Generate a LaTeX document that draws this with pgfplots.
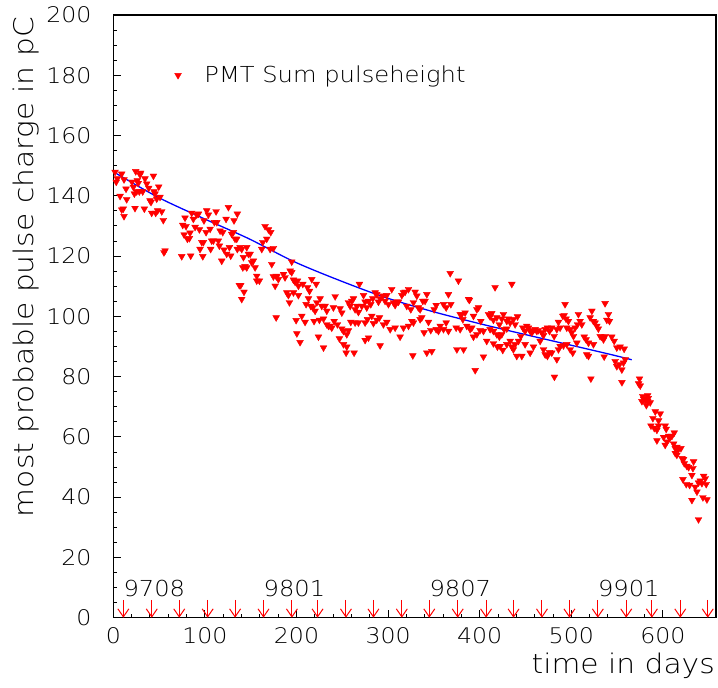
\documentclass[border=0pt]{standalone}
\usepackage{pgfplots}
\pgfplotsset{compat=1.18}
\usepackage{fontspec}
\setmainfont{DejaVu Sans ExtraLight}[FakeStretch=1.1]
\usetikzlibrary{arrows.meta}
\begin{document}
\begin{tikzpicture}
\begin{axis}[
  name=ax,
  scale only axis, width=602.7pt, height=602.7pt,
  xmin=0, xmax=658, ymin=0, ymax=200,
  xtick={0,100,...,600}, minor x tick num=4,
  ytick={0,20,...,200}, minor y tick num=3,
  tick align=inside, tick pos=left,
  major tick length=8pt, minor tick length=4pt,
  tick style={black, line width=0.9pt},
  axis line style={line width=1.2pt},
  /pgf/number format/assume math mode=true,
  ticklabel style={font=\fontsize{21.5}{24}\selectfont, inner sep=0pt},
  xticklabel style={yshift=-9.6pt},
  yticklabel style={xshift=-21.6pt},
  xlabel={time in days},
  ylabel={most probable pulse charge in pC},
  label style={font=\fontsize{27}{30}\selectfont, inner sep=0pt},
  xlabel style={at={(axis description cs:1,0)}, anchor=base east, yshift=-55.6pt, xshift=-1pt},
  ylabel style={at={(axis description cs:-0.1327,0.9967)}, anchor=base east},
  legend style={at={(axis description cs:0.1015,0.900)}, anchor=west, draw=none, fill=none,
    inner sep=0pt, font=\fontsize{22}{26}\selectfont, nodes={inner sep=0pt},
    /tikz/every odd column/.append style={column sep=23pt}},
]
\addplot[only marks, red, mark=triangle*, mark size=3.9pt, mark options={rotate=180, fill=red, draw=red}] coordinates {
(1.9,147.9)(4.4,145.7)(3.2,144.6)(9.2,147.3)(11.7,145.4)(7.4,139.9)(13.9,142.3)(14.6,138.8)(9.2,135.4)(10.9,135.7)(11.7,133.2)(20.4,144.6)(21.9,142.9)(23.0,140.7)(24.5,148.1)(26.2,145.1)(27.3,144.2)(29.2,147.0)(29.9,147.6)(25.5,141.4)(28.4,141.4)(32.1,141.4)(23.7,135.9)(33.9,135.7)(34.6,145.7)(36.5,144.0)(38.7,142.6)(40.1,138.4)(41.2,137.9)(43.8,146.6)(44.5,141.4)(45.6,140.7)(49.6,143.0)(47.4,139.0)(51.0,139.6)(41.9,134.3)(46.3,134.3)(48.4,135.1)(52.9,134.8)(54.6,131.9)(56.5,121.8)(55.3,121.2)
(78.3,132.7)(75.8,130.3)(77.3,127.1)(79.4,129.9)(80.9,125.7)(83.1,125.9)(83.8,127.7)(85.6,134.3)(87.4,132.3)(89.3,129.6)(91.1,133.7)(93.0,134.0)(94.0,128.8)(94.7,122.3)(96.6,124.6)(98.4,124.6)(99.0,131.8)(101.3,127.9)(102.0,135.1)(103.8,133.7)(105.7,129.0)(106.3,122.3)(107.4,125.1)(109.3,125.1)(110.4,131.2)(112.2,134.8)(113.0,131.2)(114.7,125.1)(115.8,123.4)(116.6,128.4)(118.4,118.4)(119.5,127.9)(120.9,122.1)(123.1,132.3)(125.7,136.2)(123.8,120.7)(126.8,122.9)(128.2,120.1)(129.3,127.3)(131.1,127.9)(131.8,131.8)(132.9,125.7)(134.8,125.7)(135.4,134.0)(135.4,122.3)(138.4,122.9)(140.2,122.3)(142.1,119.6)(141.4,116.2)(143.8,116.6)(145.7,116.2)(145.7,122.9)(147.5,120.7)(149.4,120.7)(151.1,117.9)(152.9,118.4)(154.8,116.2)(156.6,111.8)(159.5,111.8)(156.6,113.4)(162.1,122.3)(163.2,124.6)(165.7,129.9)(167.5,125.7)(169.4,128.8)(171.2,122.3)(171.9,127.9)(173.0,117.3)(174.8,113.2)(176.7,110.1)(177.8,113.4)(178.5,113.2)(174.8,122.6)(180.2,112.3)(74.7,119.9)(84.5,120.1)(97.7,119.9)(137.6,110.3)(139.1,110.3)(142.7,108.1)(140.2,105.7)(177.8,99.6)
(194.8,118.1)(185.8,114.0)(187.5,112.9)(193.1,115.1)(194.8,114.6)(196.7,112.1)(198.5,111.4)(201.1,111.8)(202.1,110.1)(206.9,110.7)(212.0,109.6)(214.2,108.4)(216.7,112.3)(221.5,110.7)(189.4,107.9)(191.2,107.0)(192.3,104.6)(196.7,107.9)(202.1,107.0)(210.5,104.0)(213.1,105.9)(215.6,103.4)(217.8,102.9)(220.3,101.8)(222.2,104.6)(225.8,105.9)(227.6,103.4)(231.2,103.4)(233.1,101.8)(240.3,102.9)(242.2,106.6)(247.6,102.6)(249.5,101.2)(256.7,104.6)(258.6,103.4)(260.3,105.1)(262.2,105.9)(264.0,102.3)(265.9,103.4)(268.7,110.7)(267.6,101.4)(271.3,103.4)(273.2,107.0)(274.9,104.8)(276.7,102.9)(278.6,105.1)(281.1,104.0)(283.3,105.9)(285.9,107.9)(287.6,107.3)(289.5,104.8)(291.3,105.9)(294.3,106.8)(296.7,105.1)(298.6,107.0)(300.4,104.0)(304.0,109.0)(305.9,104.6)(307.7,103.7)(309.6,104.8)(311.3,104.8)(315.0,107.0)(316.8,107.9)(318.6,108.1)(320.4,103.4)(322.3,109.0)(324.8,102.3)(327.7,104.6)(329.5,108.1)(331.4,106.8)(333.1,102.9)(335.0,102.3)(337.9,105.1)(340.4,105.1)(342.3,107.3)(350.3,102.3)(352.5,103.7)(360.5,104.0)(363.4,102.9)(365.9,107.3)(368.5,104.0)(367.8,114.3)(376.8,111.8)(378.7,100.7)(380.5,100.7)(384.1,101.2)(387.8,105.7)(393.2,100.1)(396.9,102.3)(398.7,102.9)
(199.6,98.7)(205.8,100.1)(209.4,98.1)(219.2,98.4)(225.0,98.8)(229.5,99.2)(233.1,97.3)(234.9,96.8)(236.7,96.8)(238.5,96.2)(241.1,98.4)(244.7,97.3)(249.5,95.9)(251.3,95.1)(254.9,94.0)(256.7,95.3)(259.3,98.1)(264.0,97.9)(267.6,97.9)(274.9,97.9)(277.5,99.0)(282.2,100.1)(284.0,97.7)(287.6,98.8)(290.6,99.6)(294.9,97.3)(298.6,98.1)(302.3,95.7)(307.7,96.2)(313.1,93.2)(316.8,96.2)(322.3,96.8)(325.9,98.4)(327.7,97.9)(335.0,99.0)(336.8,99.6)(339.3,94.6)(344.1,98.1)(346.6,95.4)(352.5,95.7)(355.0,95.1)(356.9,96.8)(360.5,95.7)(363.4,97.9)(365.9,95.1)(374.3,96.2)(378.7,95.7)(381.6,99.0)(385.9,96.8)(389.6,95.7)(391.4,96.2)(393.2,93.2)(396.9,94.0)(200.4,94.3)(203.9,91.4)(224.0,93.2)(229.5,89.6)(246.9,92.6)(251.3,90.7)(254.2,87.9)(254.9,89.9)(262.9,87.9)(274.9,92.1)(278.6,92.9)(291.3,90.3)(327.0,87.0)(342.3,87.9)(347.7,88.4)(375.1,89.0)(382.4,89.0)(395.1,82.1)
(416.8,109.6)(435.1,110.7)(388.8,105.4)(401.2,98.4)(400.4,95.4)(404.1,95.1)(409.6,100.7)(411.4,99.9)(413.2,101.0)(415.0,98.8)(418.7,99.6)(421.5,97.3)(424.1,99.2)(425.9,100.7)(429.6,98.4)(431.4,99.2)(433.3,97.9)(436.8,99.0)(438.7,97.3)(441.3,99.9)(407.7,91.8)(411.4,95.7)(415.0,95.1)(418.7,94.0)(421.5,93.2)(424.1,94.0)(426.7,95.7)(429.6,95.9)(433.3,91.8)(435.1,89.9)(438.7,90.7)(442.4,91.8)(444.9,93.4)(447.1,96.2)(449.6,95.1)(451.4,96.8)(453.2,96.2)(455.1,95.1)(456.9,94.6)(458.7,95.4)(460.5,95.7)(462.4,95.1)(464.1,95.4)(466.0,91.8)(467.8,94.6)(469.7,93.7)(471.5,95.7)(474.0,96.2)(476.2,95.1)(478.7,96.2)(481.3,93.4)(484.2,95.7)(486.0,98.1)(487.8,96.2)(490.8,100.1)(492.2,100.3)(494.3,99.2)(495.1,96.2)(496.9,98.4)(498.8,95.7)(500.5,94.6)(502.4,93.4)(504.2,96.2)(506.8,97.3)(507.8,100.7)(509.6,98.4)(511.5,97.3)(514.1,93.2)(516.2,92.3)(518.8,91.2)(520.6,99.6)(522.5,101.8)(524.2,98.4)(526.0,97.9)(527.9,96.8)(529.6,95.9)(531.5,93.4)(533.3,93.2)(535.2,92.3)(536.9,93.4)(538.8,98.8)(540.6,100.7)(541.7,98.4)(544.2,93.2)(546.8,91.8)(549.7,89.6)(553.3,89.9)(557.7,89.2)(493.2,104.0)(536.9,104.3)
(404.1,86.6)(415.0,91.0)(419.4,89.9)(422.3,90.1)(425.2,88.8)(429.6,90.7)(436.8,89.0)(440.5,86.8)(446.0,86.8)(449.6,90.7)(455.1,87.9)(458.7,89.9)(469.7,89.0)(471.5,87.3)(474.0,86.8)(476.2,88.1)(478.7,87.9)(484.2,85.7)(486.0,89.0)(487.8,90.1)(491.5,90.3)(495.1,90.7)(498.8,89.0)(501.6,87.9)(506.1,91.2)(516.9,87.3)(518.8,86.8)(524.2,90.7)(535.9,86.6)(547.9,85.1)(549.7,83.4)(552.6,84.0)(555.2,82.3)(557.0,84.6)(558.9,85.7)(481.6,79.9)
(521.4,79.3)(555.3,78.1)(574.5,79.3)(573.5,77.7)(575.3,77.0)(583.3,73.7)(579.0,72.6)(577.1,71.8)(580.7,72.1)(583.3,71.8)(586.2,71.4)(578.0,73.5)(582.0,70.5)(584.0,72.8)(591.7,68.4)(597.1,67.7)(589.1,66.2)(595.3,65.4)(587.0,63.7)(590.6,62.9)(593.5,62.3)(595.3,63.7)(602.5,63.7)(603.6,62.6)(612.4,61.4)(606.2,60.3)(609.9,60.3)(607.4,59.5)(600.8,59.9)(593.5,58.8)(602.5,57.3)(604.4,58.4)(611.7,57.7)(613.5,56.2)(615.3,56.6)(617.1,55.9)(619.7,56.2)(613.5,54.6)(615.3,54.0)(620.8,52.9)(622.6,52.6)(623.4,51.2)(626.2,50.3)(628.1,49.9)(633.5,51.8)(632.8,49.6)(631.7,47.3)(621.9,45.9)(625.5,44.3)(629.2,44.0)(635.3,43.4)(637.2,41.8)(638.9,44.8)(640.8,45.4)(642.6,44.6)(644.5,47.0)(646.3,46.2)(647.3,44.3)(631.7,39.0)(643.7,39.9)(648.1,39.2)(638.9,32.6)
};
\addlegendentry{PMT Sum pulseheight}
\addplot[forget plot, blue, line width=1.3pt, smooth] coordinates {
(0,148)(49,139.5)(98.4,132.5)(147.7,125.8)(197,118.2)(246.3,112)(295.7,106.4)(345,101.9)(394.3,98)(443.6,94.4)(493,90.9)(542.3,87.4)(566,85.6)
};
\addplot[forget plot, red, line width=1pt, quiver={u=0, v=-5.9}, -{Straight Barb[length=8pt, width=11pt]}] coordinates {
(11,5.9)(42,5.9)(72,5.9)(103,5.9)(133,5.9)(164,5.9)(195,5.9)(223,5.9)(254,5.9)(284,5.9)(315,5.9)(345,5.9)(376,5.9)(407,5.9)(437,5.9)(468,5.9)(498,5.9)(529,5.9)(560,5.9)(588,5.9)(619,5.9)(649,5.9)
};
\node[anchor=base west, inner sep=0pt, font=\fontsize{22}{26}\selectfont] at (axis cs:11,7.2) {9708};
\node[anchor=base west, inner sep=0pt, font=\fontsize{22}{26}\selectfont] at (axis cs:164,7.2) {9801};
\node[anchor=base west, inner sep=0pt, font=\fontsize{22}{26}\selectfont] at (axis cs:345,7.2) {9807};
\node[anchor=base west, inner sep=0pt, font=\fontsize{22}{26}\selectfont] at (axis cs:529,7.2) {9901};
\end{axis}
\pgfresetboundingbox
\path (ax.south west) ++(-113.3pt,-70.3pt) rectangle ([xshift=2pt,yshift=15pt]ax.north east);
\end{tikzpicture}
\end{document}
